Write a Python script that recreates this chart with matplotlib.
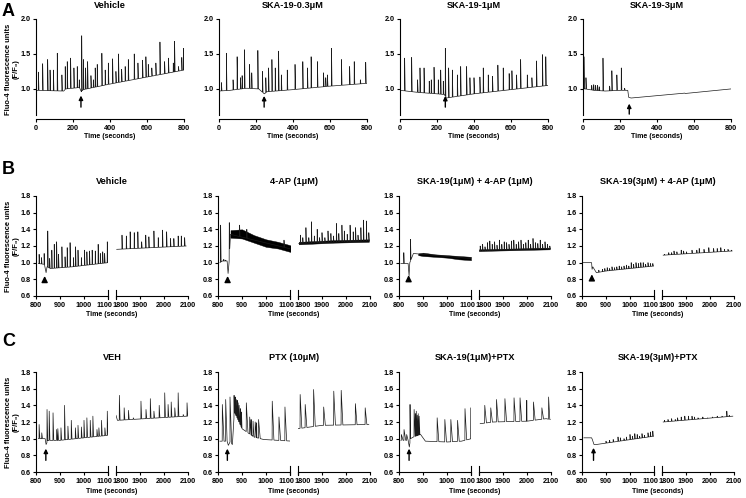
import numpy as np
import matplotlib.pyplot as plt

plt.rcParams['font.family'] = ['Liberation Sans', 'DejaVu Sans']
plt.rcParams['font.weight'] = 'bold'

# ---------------- row A : 0-800 s ----------------
a_titles = ['Vehicle', 'SKA-19-0.3\u03bcM', 'SKA-19-1\u03bcM', 'SKA-19-3\u03bcM']

a1_base_t = [0, 150, 160, 235, 245, 255, 400, 600, 800]
a1_base_y = [0.98, 0.97, 1.00, 1.02, 0.96, 0.99, 1.07, 1.17, 1.27]
a1_spk_t = [13, 36, 63, 76, 94, 115, 140, 158, 169, 187, 205, 223, 234, 247, 256, 268, 279, 297, 310, 320,
            331, 356, 374, 391, 414, 432, 446, 463, 482, 499, 531, 551, 576, 594, 607, 626, 648, 670, 695, 716,
            742, 749, 770, 788, 797]
a1_spk_y = [1.24, 1.36, 1.42, 1.27, 1.27, 1.51, 1.20, 1.32, 1.39, 1.44, 1.30, 1.32, 1.13, 1.76, 1.42, 1.30, 1.39,
            1.19, 1.13, 1.30, 1.35, 1.51, 1.27, 1.37, 1.43, 1.25, 1.50, 1.28, 1.32, 1.42, 1.50, 1.37, 1.41, 1.46,
            1.35, 1.30, 1.37, 1.67, 1.39, 1.44, 1.37, 1.68, 1.32, 1.45, 1.58]

a2_base_t = [0, 60, 150, 215, 245, 260, 400, 600, 800]
a2_base_y = [0.97, 0.98, 1.01, 1.00, 0.93, 0.96, 0.99, 1.04, 1.08]
a2_spk_t = [13, 40, 76, 98, 116, 125, 138, 165, 177, 210, 235, 253, 268, 286, 304, 322, 337, 369, 411, 453,
            478, 498, 532, 565, 577, 586, 608, 662, 706, 731, 764, 793]
a2_spk_y = [1.09, 1.51, 1.13, 1.46, 1.16, 1.19, 1.56, 1.35, 1.23, 1.55, 1.25, 1.16, 1.30, 1.42, 1.30, 1.54, 1.20,
            1.27, 1.35, 1.39, 1.30, 1.46, 1.39, 1.23, 1.16, 1.20, 1.58, 1.42, 1.32, 1.39, 1.13, 1.38]

a3_base_t = [0, 100, 200, 240, 250, 400, 600, 800]
a3_base_y = [0.98, 0.95, 0.93, 0.92, 0.87, 0.93, 0.99, 1.05]
a3_spk_t = [25, 63, 95, 108, 130, 158, 169, 184, 207, 220, 234, 245, 263, 283, 310, 328, 360, 378, 400, 432,
            450, 477, 500, 529, 558, 590, 605, 630, 652, 688, 713, 738, 770, 788]
a3_spk_y = [1.44, 1.45, 1.13, 1.30, 1.30, 1.11, 1.13, 1.31, 1.13, 1.27, 1.11, 1.58, 1.30, 1.27, 1.20, 1.32, 1.32,
            1.16, 1.16, 1.17, 1.30, 1.20, 1.18, 1.34, 1.30, 1.22, 1.26, 1.20, 1.42, 1.20, 1.16, 1.40, 1.49, 1.46]

a4_base_t = [0, 12, 60, 120, 200, 242, 247, 260, 550, 553, 800]
a4_base_y = [1.00, 1.00, 0.98, 0.97, 0.98, 0.98, 0.88, 0.87, 0.94, 0.935, 1.00]
a4_spk_t = [5, 16, 47, 58, 68, 79, 88, 108, 144, 156, 183, 207, 225]
a4_spk_y = [1.46, 1.16, 1.05, 1.06, 1.05, 1.05, 1.03, 1.44, 1.04, 1.26, 1.20, 1.30, 1.01]

a_arrow_t = [243, 244, 245, 250]
a_arrow_tip = [0.905, 0.90, 0.90, 0.79]
a_arrow_tail = [0.74, 0.74, 0.74, 0.64]

# ---------------- row B : 4-AP ----------------
b_titles = ['Vehicle', '4-AP (1\u03bcM)', 'SKA-19(1\u03bcM) + 4-AP (1\u03bcM)', 'SKA-19(3\u03bcM) + 4-AP (1\u03bcM)']

b1_lbase_t = [810, 835, 842, 846, 860, 950, 1100]
b1_lbase_y = [0.99, 0.98, 0.88, 0.95, 0.93, 0.95, 1.00]
b1_lspk_t = [813, 823, 834, 849, 857, 866, 876, 886, 894, 908, 921, 930, 942, 956, 965, 975, 989, 1002, 1012,
             1023, 1034, 1047, 1059, 1068, 1078, 1086, 1097]
b1_lspk_y = [1.10, 1.06, 1.11, 1.38, 1.05, 1.15, 1.22, 1.25, 1.10, 1.19, 1.07, 1.18, 1.24, 1.06, 1.19, 1.15, 1.06,
             1.15, 1.13, 1.14, 1.15, 1.14, 1.22, 1.11, 1.13, 1.11, 1.25]
b1_rbase_t = [1803, 2092]
b1_rbase_y = [1.16, 1.20]
b1_rspk_t = [1825, 1843, 1859, 1876, 1891, 1907, 1924, 1937, 1958, 1976, 1994, 2011, 2027, 2041, 2059, 2072, 2086]
b1_rspk_y = [1.33, 1.32, 1.37, 1.36, 1.37, 1.25, 1.33, 1.31, 1.38, 1.30, 1.39, 1.37, 1.29, 1.29, 1.32, 1.32, 1.30]

b2_lbase_t = [808, 818, 838, 842, 846, 852, 1110]
b2_lbase_y = [1.00, 1.02, 1.02, 0.87, 1.00, 1.34, 1.16]
b2_lspk_t = [811, 824, 832, 847, 890, 920, 1075, 1105]
b2_lspk_y = [1.45, 1.04, 1.03, 1.48, 1.45, 1.40, 1.27, 1.22]
b2_lband_t = [852, 900, 950, 1000, 1050, 1100, 1110]
b2_lband_lo = [1.30, 1.29, 1.24, 1.19, 1.17, 1.13, 1.13]
b2_lband_hi = [1.39, 1.40, 1.33, 1.28, 1.25, 1.21, 1.19]
b2_rbase_t = [1803, 2095]
b2_rbase_y = [1.23, 1.26]
b2_rspk_t = [1810, 1820, 1833, 1845, 1856, 1868, 1880, 1890, 1900, 1912, 1925, 1937, 1948, 1960, 1970, 1983,
             1993, 2005, 2017, 2030, 2040, 2050, 2062, 2073, 2085, 2095]
b2_rspk_y = [1.33, 1.30, 1.42, 1.30, 1.49, 1.32, 1.40, 1.30, 1.36, 1.30, 1.38, 1.35, 1.32, 1.47, 1.35, 1.45,
             1.38, 1.34, 1.45, 1.37, 1.42, 1.33, 1.42, 1.51, 1.50, 1.36]
b2_rband_t = [1803, 1950, 2095]
b2_rband_lo = [1.22, 1.24, 1.25]
b2_rband_hi = [1.25, 1.27, 1.28]

b3_lbase_t = [808, 838, 842, 845, 860, 900, 1100]
b3_lbase_y = [0.99, 0.99, 0.84, 1.00, 1.11, 1.10, 1.05]
b3_lspk_t = [820, 848]
b3_lspk_y = [1.12, 1.28]
b3_lband_t = [880, 900, 950, 1000, 1050, 1100]
b3_lband_lo = [1.09, 1.08, 1.07, 1.06, 1.04, 1.03]
b3_lband_hi = [1.11, 1.12, 1.10, 1.09, 1.08, 1.07]
b3_rbase_t = [1800, 2095]
b3_rbase_y = [1.14, 1.17]
b3_rspk_t = [1805, 1815, 1825, 1835, 1845, 1855, 1865, 1875, 1885, 1895, 1905, 1915, 1925, 1935, 1945, 1955,
             1965, 1975, 1985, 1995, 2005, 2015, 2025, 2035, 2045, 2055, 2065, 2075, 2085, 2095]
b3_rspk_y = [1.20, 1.22, 1.19, 1.24, 1.26, 1.22, 1.25, 1.21, 1.27, 1.22, 1.25, 1.24, 1.22, 1.26, 1.27, 1.22,
             1.25, 1.27, 1.22, 1.24, 1.27, 1.22, 1.29, 1.24, 1.23, 1.27, 1.22, 1.25, 1.22, 1.20]
b3_rband_t = [1800, 2095]
b3_rband_lo = [1.14, 1.16]
b3_rband_hi = [1.16, 1.18]

b4_lbase_t = [805, 840, 842, 845, 860, 900, 1100]
b4_lbase_y = [1.00, 1.00, 0.92, 0.95, 0.88, 0.90, 0.96]
b4_lspk_t = [870, 885, 895, 905, 915, 925, 935, 945, 955, 965, 975, 985, 995, 1005, 1015, 1025, 1035, 1045,
             1055, 1065, 1075, 1085, 1095]
b4_lspk_y = [0.91, 0.92, 0.93, 0.94, 0.93, 0.95, 0.94, 0.95, 0.96, 0.95, 0.96, 0.97, 0.96, 1.00, 0.98, 1.00,
             0.99, 1.00, 1.00, 0.98, 1.00, 0.99, 0.99]
b4_rbase_t = [1805, 2090]
b4_rbase_y = [1.09, 1.14]
b4_rspk_t = [1810, 1828, 1840, 1850, 1862, 1880, 1890, 1902, 1925, 1945, 1955, 1975, 1995, 2015, 2030, 2045,
             2060, 2075, 2090]
b4_rspk_y = [1.10, 1.12, 1.12, 1.14, 1.13, 1.15, 1.14, 1.13, 1.15, 1.15, 1.17, 1.16, 1.18, 1.17, 1.17, 1.18,
             1.16, 1.16, 1.15]

b_mark_t = [836, 840, 840, 841]
b_mark_y = [0.80, 0.80, 0.81, 0.82]

# ---------------- row C : PTX ----------------
c_titles = ['VEH', 'PTX (10\u03bcM)', 'SKA-19(1\u03bcM)+PTX', 'SKA-19(3\u03bcM)+PTX']

c1_lbase_t = [810, 838, 842, 850, 900, 1100]
c1_lbase_y = [1.00, 1.00, 0.93, 0.98, 0.98, 1.04]
c1_lspk_t = [813, 824, 846, 855, 871, 886, 891, 904, 919, 933, 947, 964, 975, 989, 1000, 1012, 1026, 1037,
             1054, 1062, 1073, 1087, 1097]
c1_lspk_y = [1.17, 1.07, 1.35, 1.33, 1.31, 1.11, 1.12, 1.13, 1.40, 1.15, 1.22, 1.13, 1.16, 1.14, 1.22, 1.25,
             1.22, 1.27, 1.11, 1.13, 1.22, 1.13, 1.33]
c1_rbase_t = [1800, 1806, 2095]
c1_rbase_y = [1.28, 1.22, 1.27]
c1_rspk_t = [1814, 1834, 1852, 1872, 1904, 1925, 1943, 1958, 1980, 2003, 2017, 2030, 2045, 2059, 2080, 2096]
c1_rspk_y = [1.52, 1.37, 1.34, 1.25, 1.45, 1.35, 1.48, 1.33, 1.40, 1.55, 1.41, 1.44, 1.37, 1.55, 1.29, 1.43]

c2_lbase_t = [808, 838, 843, 850, 860, 868, 880, 900, 950, 990, 1110]
c2_lbase_y = [0.97, 0.97, 0.92, 0.96, 0.93, 1.32, 1.25, 1.12, 1.02, 0.99, 0.97]
c2_lspk_t = [818, 832, 850, 867, 872, 876, 880, 884, 888, 893, 898, 918, 932, 938, 946, 955, 961, 969, 1026,
             1054, 1079]
c2_lspk_y = [1.41, 1.47, 1.50, 1.52, 1.50, 1.47, 1.46, 1.43, 1.40, 1.36, 1.32, 1.43, 1.26, 1.23, 1.21, 1.20,
             1.19, 1.23, 1.45, 1.26, 1.38]
c2_rbase_t = [1800, 1900, 2095]
c2_rbase_y = [1.12, 1.16, 1.17]
c2_rspk_t = [1809, 1830, 1865, 1907, 1949, 1980, 2039, 2080]
c2_rspk_y = [1.53, 1.41, 1.59, 1.38, 1.57, 1.58, 1.42, 1.37]

c3_lbase_t = [808, 838, 843, 848, 860, 890, 910, 1000, 1060, 1102]
c3_lbase_y = [0.98, 0.98, 0.90, 1.00, 1.02, 1.05, 0.97, 0.96, 0.97, 1.00]
c3_lspk_t = [810, 821, 832, 846, 863, 868, 872, 876, 880, 884, 959, 991, 1016, 1044, 1075, 1099]
c3_lspk_y = [1.05, 1.11, 1.05, 1.41, 1.35, 1.30, 1.33, 1.28, 1.30, 1.27, 1.25, 1.23, 1.23, 1.22, 1.36, 1.37]
c3_rbase_t = [1805, 1860, 2000, 2080, 2095]
c3_rbase_y = [1.18, 1.20, 1.21, 1.24, 1.23]
c3_rspk_t = [1824, 1849, 1873, 1908, 1946, 1971, 1999, 2027, 2062, 2090]
c3_rspk_y = [1.40, 1.37, 1.47, 1.48, 1.49, 1.49, 1.46, 1.44, 1.37, 1.50]

c4_lbase_t = [808, 840, 843, 850, 860, 1100]
c4_lbase_y = [1.01, 1.01, 0.99, 0.93, 0.93, 1.03]
c4_lspk_t = [900, 915, 930, 950, 960, 975, 985, 1000, 1010, 1020, 1030, 1040, 1050, 1060, 1075, 1085, 1095]
c4_lspk_y = [0.97, 0.98, 0.99, 1.02, 1.01, 1.00, 1.02, 1.05, 1.03, 1.06, 1.05, 1.03, 1.06, 1.04, 1.07, 1.08, 1.09]
c4_rbase_t = [1805, 2095]
c4_rbase_y = [1.20, 1.27]
c4_rspk_t = [1810, 1825, 1840, 1855, 1865, 1880, 1895, 1910, 1925, 1935, 1950, 1970, 1990, 2010, 2030, 2050,
             2070, 2080]
c4_rspk_y = [1.22, 1.23, 1.24, 1.23, 1.25, 1.26, 1.27, 1.27, 1.27, 1.26, 1.25, 1.26, 1.25, 1.26, 1.27, 1.27,
             1.33, 1.28]

c_arrow_t = [841, 839, 842, 848]
c_arrow_tip = [0.88, 0.88, 0.88, 0.89]
c_arrow_tail = [0.74, 0.74, 0.74, 0.74]

W, H = 746, 498
fig = plt.figure(figsize=(W / 100, H / 100), dpi=100)
ylab = 'Fluo-4 fluorescence units\n(F/F\u2080)'
TICK_FS = 5.2


def trace(kt, ky, st, sy, w):
    pts = list(zip(kt, ky))
    for t, p in zip(st, sy):
        pts += [(t - 0.5, np.interp(t - 0.5, kt, ky)), (t, p), (t + w, np.interp(t + w, kt, ky))]
    pts.sort()
    return [p[0] for p in pts], [p[1] for p in pts]


def px_axes(x, top, w, h):
    return fig.add_axes([x / W, 1 - (top + h) / H, w / W, h / H])


def style(ax):
    for s in ['top', 'right']:
        ax.spines[s].set_visible(False)
    for s in ['left', 'bottom']:
        ax.spines[s].set_linewidth(0.8)
    ax.tick_params(labelsize=TICK_FS, length=2.5, width=0.8, pad=1.5)


def up_arrow(ax, t, tip, tail, ms=6):
    ax.annotate('', xy=(t, tip), xytext=(t, tail),
                arrowprops=dict(arrowstyle='-|>', color='k', lw=1.0, mutation_scale=ms, shrinkA=0, shrinkB=0))


def ftext(x, y, s, **kw):
    fig.text(x / W, 1 - y / H, s, ha='center', va='center', **kw)


# ---- row A ----
a_left = [36, 219, 400, 583]
a_data = [(a1_base_t, a1_base_y, a1_spk_t, a1_spk_y), (a2_base_t, a2_base_y, a2_spk_t, a2_spk_y),
          (a3_base_t, a3_base_y, a3_spk_t, a3_spk_y), (a4_base_t, a4_base_y, a4_spk_t, a4_spk_y)]
for i in range(4):
    ax = px_axes(a_left[i], 19, 148, 100)
    style(ax)
    x, y = trace(*a_data[i], 3)
    ax.plot(x, y, color='#1a1a1a', lw=0.5)
    ax.set_xlim(0, 800)
    ax.set_ylim(0.57, 2.0)
    ax.set_xticks([0, 200, 400, 600, 800])
    ax.set_yticks([1.0, 1.5, 2.0])
    ax.set_yticklabels(['1.0', '1.5', '2.0'])
    ax.spines['left'].set_bounds(0.63, 2.0)
    up_arrow(ax, a_arrow_t[i], a_arrow_tip[i], a_arrow_tail[i])
    ftext(a_left[i] + 74, 6, a_titles[i], fontsize=6.6)
    ftext(a_left[i] + 74, 137, 'Time (seconds)', fontsize=5)


def broken_panel(left, top, title, ldata, rdata, w, lband=None, rband=None):
    axl = px_axes(left, top, 72, 100)
    axr = px_axes(left + 80, top, 72, 100)
    for ax, d, band, lim, ticks, labs in [
            (axl, ldata, lband, (800, 1100), [800, 900, 1000, 1100], ['800', '900', '1000', '']),
            (axr, rdata, rband, (1800, 2100), [1800, 1900, 2000, 2100], ['', '1900', '2000', '2100'])]:
        style(ax)
        if band is not None:
            ax.fill_between(band[0], band[1], band[2], color='k', lw=0.3)
        x, y = trace(*d, w)
        ax.plot(x, y, color='#1a1a1a', lw=0.5)
        ax.set_xlim(*lim)
        ax.set_ylim(0.6, 1.8)
        ax.set_xticks(ticks)
        ax.set_xticklabels(labs)
        ax.set_yticks([0.6, 0.8, 1.0, 1.2, 1.4, 1.6, 1.8])
    axr.spines['left'].set_visible(False)
    axr.tick_params(left=False, labelleft=False)
    # break marks and the run-together "1100"/"1800" labels
    axl.plot([1, 1], [-0.03, 0.06], transform=axl.transAxes, color='k', lw=0.8, clip_on=False)
    axr.plot([0, 0], [-0.03, 0.06], transform=axr.transAxes, color='k', lw=0.8, clip_on=False)
    axl.text(1 + 4 / 72, -0.056, '1100', transform=axl.transAxes, ha='right', va='top', fontsize=TICK_FS)
    axr.text(-4 / 72, -0.056, '1800', transform=axr.transAxes, ha='left', va='top', fontsize=TICK_FS)
    ftext(left + 76, top - 14, title, fontsize=6.6)
    ftext(left + 76, top + 119, 'Time (seconds)', fontsize=5)
    return axl


bc_left = [36, 218, 399, 582]

# ---- row B ----
b_l = [(b1_lbase_t, b1_lbase_y, b1_lspk_t, b1_lspk_y), (b2_lbase_t, b2_lbase_y, b2_lspk_t, b2_lspk_y),
       (b3_lbase_t, b3_lbase_y, b3_lspk_t, b3_lspk_y), (b4_lbase_t, b4_lbase_y, b4_lspk_t, b4_lspk_y)]
b_r = [(b1_rbase_t, b1_rbase_y, b1_rspk_t, b1_rspk_y), (b2_rbase_t, b2_rbase_y, b2_rspk_t, b2_rspk_y),
       (b3_rbase_t, b3_rbase_y, b3_rspk_t, b3_rspk_y), (b4_rbase_t, b4_rbase_y, b4_rspk_t, b4_rspk_y)]
b_lband = [None, (b2_lband_t, b2_lband_lo, b2_lband_hi), (b3_lband_t, b3_lband_lo, b3_lband_hi), None]
b_rband = [None, (b2_rband_t, b2_rband_lo, b2_rband_hi), (b3_rband_t, b3_rband_lo, b3_rband_hi), None]
for i in range(4):
    ax = broken_panel(bc_left[i], 196, b_titles[i], b_l[i], b_r[i], 2, b_lband[i], b_rband[i])
    up_arrow(ax, b_mark_t[i], b_mark_y[i] + 0.04, b_mark_y[i] - 0.03, ms=9)

# ---- row C ----
c_l = [(c1_lbase_t, c1_lbase_y, c1_lspk_t, c1_lspk_y), (c2_lbase_t, c2_lbase_y, c2_lspk_t, c2_lspk_y),
       (c3_lbase_t, c3_lbase_y, c3_lspk_t, c3_lspk_y), (c4_lbase_t, c4_lbase_y, c4_lspk_t, c4_lspk_y)]
c_r = [(c1_rbase_t, c1_rbase_y, c1_rspk_t, c1_rspk_y), (c2_rbase_t, c2_rbase_y, c2_rspk_t, c2_rspk_y),
       (c3_rbase_t, c3_rbase_y, c3_rspk_t, c3_rspk_y), (c4_rbase_t, c4_rbase_y, c4_rspk_t, c4_rspk_y)]
c_w = [3, 7, 7, 2]
for i in range(4):
    ax = broken_panel(bc_left[i], 372, c_titles[i], c_l[i], c_r[i], c_w[i])
    up_arrow(ax, c_arrow_t[i], c_arrow_tip[i], c_arrow_tail[i])

# y labels and panel letters
for yc in [69, 246, 422]:
    ftext(12, yc, ylab, fontsize=5.4, rotation=90, linespacing=1.1)
for lab, yy in [('A', 12), ('B', 169), ('C', 341)]:
    fig.text(2 / W, 1 - yy / H, lab, fontsize=13, fontweight='bold', va='center', ha='left')

fig.savefig('out.png', dpi=100)
